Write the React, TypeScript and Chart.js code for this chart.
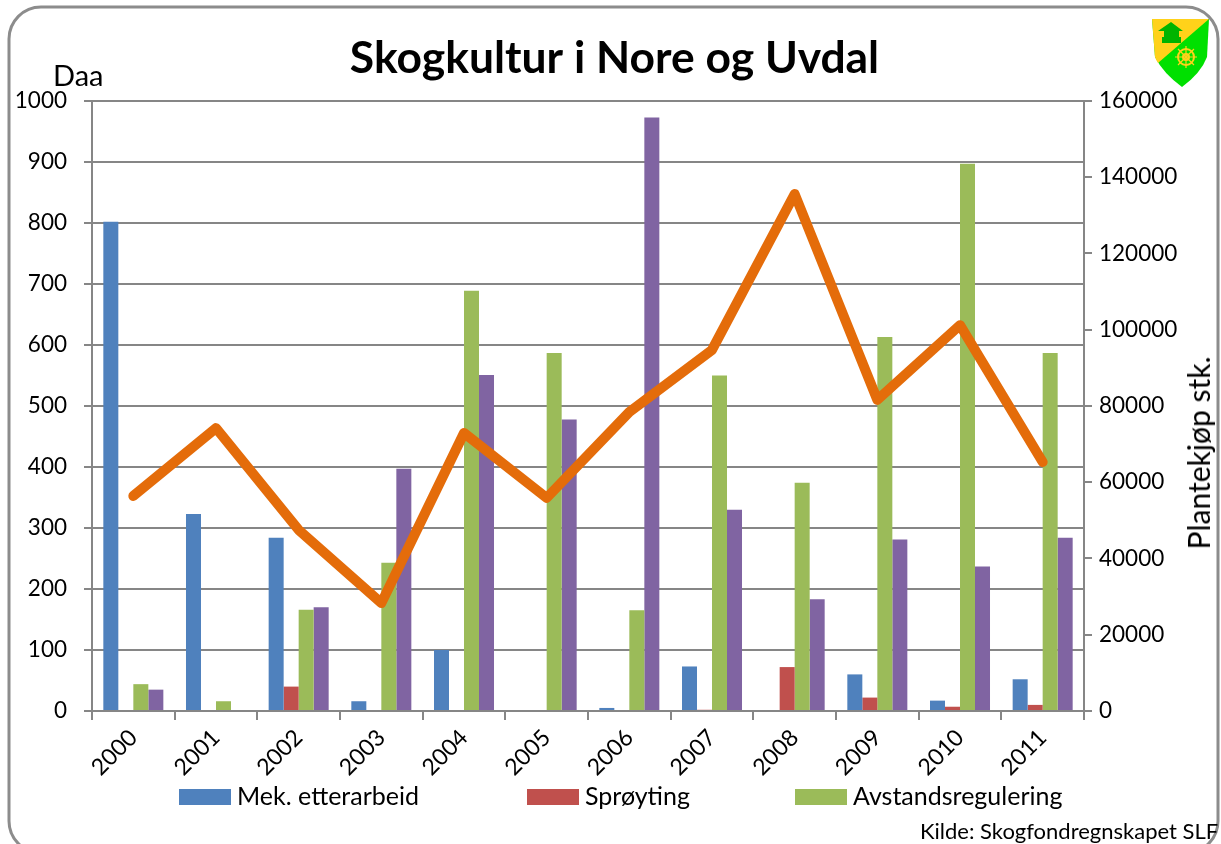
import React, { useEffect, useRef } from "react";
import { Chart, registerables } from "chart.js";

Chart.register(...registerables);

const years = ["2000", "2001", "2002", "2003", "2004", "2005", "2006", "2007", "2008", "2009", "2010", "2011"];
const mekEtterarbeid = [802, 323, 284, 16, 100, 0, 5, 73, 0, 60, 17, 52];
const sproyting = [0, 0, 40, 0, 0, 0, 0, 2, 72, 22, 7, 10];
const avstandsregulering = [44, 16, 166, 243, 689, 587, 165, 550, 374, 613, 897, 587];
const series4 = [35, 0, 170, 397, 551, 478, 973, 330, 183, 281, 237, 284];
const plantekjop = [56400, 74200, 47500, 28300, 72900, 55900, 78400, 94700, 135600, 81600, 101200, 65300];

const FONT = "Lato, 'Open Sans', sans-serif";
const GREY = "#868686";
const plainTick = (v: any) => String(v);

const legendItems = [
  { label: "Mek. etterarbeid", color: "#4F81BD", x: 179 },
  { label: "Sprøyting", color: "#C0504D", x: 527 },
  { label: "Avstandsregulering", color: "#9BBB59", x: 795 },
];

const framePlugin = {
  id: "frame",
  beforeDraw(chart: any) {
    const ctx = chart.ctx;
    ctx.save();
    ctx.fillStyle = "#fff";
    ctx.fillRect(0, 0, chart.width, chart.height);
    ctx.strokeStyle = "#8c8c8c";
    ctx.lineWidth = 3;
    ctx.beginPath();
    ctx.roundRect(9, 7, 1209, 846, 32);
    ctx.stroke();
    ctx.restore();
  },
};

const text: React.CSSProperties = { position: "absolute", fontFamily: FONT, color: "#000", whiteSpace: "nowrap", lineHeight: 1 };

export default function App() {
  const ref = useRef<HTMLCanvasElement>(null);
  useEffect(() => {
    const chart = new Chart(ref.current!, {
      type: "bar",
      plugins: [framePlugin],
      data: {
        labels: years,
        datasets: [
          { type: "line", label: "Plantekjøp", data: plantekjop, yAxisID: "y2", borderColor: "#E46C0A", borderWidth: 10, borderJoinStyle: "round", borderCapStyle: "round", pointRadius: 0, tension: 0, order: 0 },
          { label: "Mek. etterarbeid", data: mekEtterarbeid, backgroundColor: "#4F81BD", yAxisID: "y", order: 1 },
          { label: "Sprøyting", data: sproyting, backgroundColor: "#C0504D", yAxisID: "y", order: 1 },
          { label: "Avstandsregulering", data: avstandsregulering, backgroundColor: "#9BBB59", yAxisID: "y", order: 1 },
          { label: "Serie 4", data: series4, backgroundColor: "#8064A2", yAxisID: "y", order: 1 },
        ],
      } as any,
      options: {
        responsive: false,
        animation: false,
        layout: { padding: { left: 8, right: 0, top: 0, bottom: 0 } },
        datasets: { bar: { barPercentage: 1, categoryPercentage: 0.726 } },
        plugins: {
          legend: { display: false },
          tooltip: { enabled: false },
          title: {
            display: true,
            text: "Skogkultur i Nore og Uvdal",
            color: "#000",
            font: { family: FONT, size: 44.4, weight: "bold" },
            padding: { top: 32, bottom: 15.7 },
          },
        },
        scales: {
          x: {
            offset: true,
            afterFit(s: any) { s.height = 133; },
            grid: { drawOnChartArea: false, drawTicks: true, tickLength: 9, color: GREY, lineWidth: 2 },
            border: { color: GREY, width: 2 },
            ticks: { color: "#000", font: { family: FONT, size: 23 }, maxRotation: 45, minRotation: 45, padding: 4 },
          },
          y: {
            position: "left",
            min: 0,
            max: 1000,
            afterFit(s: any) { s.width = 84; },
            grid: { color: GREY, lineWidth: 2, tickLength: 8 },
            border: { color: GREY, width: 2 },
            ticks: { stepSize: 100, callback: plainTick, color: "#000", font: { family: FONT, size: 22.5 }, padding: 17 },
          },
          y2: {
            position: "right",
            min: 0,
            max: 160000,
            afterFit(s: any) { s.width = 137; },
            grid: { drawOnChartArea: false, color: GREY, lineWidth: 2, tickLength: 8 },
            border: { color: GREY, width: 2 },
            ticks: { stepSize: 20000, callback: plainTick, color: "#000", font: { family: FONT, size: 22.5 }, padding: 7 },
          },
        },
      } as any,
    });
    return () => chart.destroy();
  }, []);

  return (
    <div style={{ position: "absolute", left: 0, top: 0, width: 1221, height: 844, overflow: "hidden", background: "#fff" }}>
      <canvas ref={ref} width={1221} height={844} style={{ display: "block" }} />
      <div style={{ ...text, left: 53, top: 60, fontSize: 29 }}>Daa</div>
      <div style={{ ...text, left: 1198, top: 453, fontSize: 30, transform: "translate(-50%,-50%) rotate(-90deg)" }}>Plantekjøp stk.</div>
      {legendItems.map((d) => (
        <React.Fragment key={d.label}>
          <div style={{ position: "absolute", left: d.x, top: 789, width: 52, height: 16, background: d.color }} />
          <div style={{ ...text, left: d.x + 58, top: 783, fontSize: 25 }}>{d.label}</div>
        </React.Fragment>
      ))}
      <div style={{ ...text, left: 920, top: 820, fontSize: 22 }}>Kilde: Skogfondregnskapet SLF</div>
      <svg style={{ position: "absolute", left: 1150, top: 17 }} width={62} height={72} viewBox="1150 17 62 72">
        <path d="M1152 19H1209L1207 57Q1201 73 1182 87Q1163 73 1155 57Z" fill="#00E000" />
        <path d="M1152 19H1209L1158 63Q1156 60 1155 57Z" fill="#FFD21A" />
        <path d="M1158 31L1171 22L1183 31H1179V37H1181V43H1162V37H1164V31Z" fill="#00B400" />
        <circle cx="1186" cy="57" r="8" fill="none" stroke="#FFD21A" strokeWidth="2" />
        <circle cx="1186" cy="57" r="3" fill="none" stroke="#FFD21A" strokeWidth="2" />
        <path d="M1186 46V68M1175 57H1197M1178 49L1194 65M1194 49L1178 65" stroke="#FFD21A" strokeWidth="1.2" />
      </svg>
    </div>
  );
}
